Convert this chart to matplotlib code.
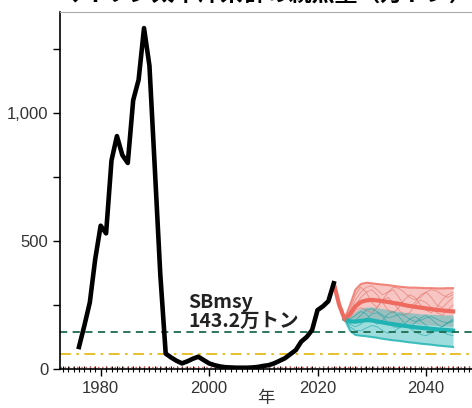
import numpy as np
import matplotlib.pyplot as plt
from matplotlib.ticker import MultipleLocator, FuncFormatter

plt.rcParams['font.family'] = ['Liberation Sans', 'Noto Sans CJK JP']

# 親魚量の推移（万トン）
anos = list(range(1976, 2024))
sb = [86, 170, 260, 430, 560, 530, 815, 910, 836, 805, 1050, 1130, 1332, 1185,
      780, 370, 60, 45, 32, 22, 30, 40, 48, 35, 22, 15, 10, 7, 6, 5, 5, 5, 6,
      8, 12, 15, 22, 32, 42, 58, 74, 107, 125, 152, 230, 245, 265, 335]

anos_puente = [2023, 2024, 2025]
sb_puente = [335, 250, 195]

# 将来予測
anos_proy = list(range(2025, 2046))
rojo_centro = [195, 215, 245, 262, 268, 270, 268, 265, 262, 258, 255, 250, 246, 243, 240, 237, 234, 231, 229, 227, 225]
rojo_sup = [195, 250, 310, 332, 337, 335, 332, 330, 328, 325, 322, 320, 318, 318, 317, 316, 316, 315, 315, 316, 316]
rojo_inf = [195, 185, 190, 195, 195, 193, 190, 188, 186, 184, 182, 180, 178, 176, 175, 173, 172, 170, 169, 168, 167]
verde_centro = [195, 186, 185, 188, 191, 190, 186, 182, 178, 175, 172, 169, 166, 163, 161, 159, 157, 155, 153, 152, 150]
verde_sup = [195, 205, 225, 238, 242, 243, 240, 236, 232, 228, 225, 222, 220, 218, 216, 215, 214, 213, 212, 211, 211]
verde_inf = [195, 150, 133, 130, 128, 125, 122, 118, 115, 112, 110, 107, 104, 102, 99, 97, 95, 92, 90, 88, 86]

tray_rojo = [
    [195, 230, 290, 320, 300, 260, 240, 270, 300, 310, 280, 250, 240, 260, 290, 300, 280, 250, 240, 260, 280],
    [195, 210, 250, 280, 300, 310, 290, 260, 230, 220, 240, 270, 290, 280, 250, 230, 220, 240, 270, 290, 300],
    [195, 200, 230, 240, 230, 220, 240, 270, 280, 260, 230, 210, 220, 250, 270, 260, 240, 220, 210, 230, 250],
    [195, 220, 270, 300, 320, 325, 310, 290, 300, 320, 315, 300, 280, 270, 280, 300, 310, 305, 290, 280, 290],
]
tray_verde = [
    [195, 195, 210, 225, 215, 190, 175, 190, 215, 225, 205, 180, 165, 180, 200, 210, 195, 175, 165, 180, 195],
    [195, 175, 165, 175, 195, 215, 220, 205, 180, 165, 160, 175, 195, 205, 190, 170, 155, 150, 165, 180, 185],
    [195, 165, 150, 150, 160, 170, 165, 150, 140, 145, 160, 170, 160, 145, 135, 130, 140, 150, 145, 135, 130],
    [195, 185, 190, 210, 230, 235, 225, 210, 200, 205, 215, 210, 195, 185, 190, 200, 205, 195, 185, 180, 190],
]

sb_msy = 143.2
sb_limit = 58
sb_ban = 7

rojo = '#ee6a5e'
verde = '#1fb3b3'

fig = plt.figure(figsize=(4.72, 4.08), dpi=100)
ax = fig.add_axes([60 / 472, 1 - 369 / 408, 1 - 60 / 472, (369 - 12) / 408])

# Bandas de predicción
ax.fill_between(anos_proy, rojo_inf, rojo_sup, color='#f3a19b', alpha=0.6, lw=0)
ax.fill_between(anos_proy, verde_inf, verde_sup, color='#3cbcbc', alpha=0.5, lw=0)
ax.plot(anos_proy, rojo_sup, color=rojo, lw=1.5, alpha=0.8)
ax.plot(anos_proy, verde_inf, color=verde, lw=1.5, alpha=0.8)
for t in tray_rojo:
    ax.plot(anos_proy, t, color='#e0685e', lw=0.6, alpha=0.6)
for t in tray_verde:
    ax.plot(anos_proy, t, color='#159f9f', lw=0.6, alpha=0.6)
ax.plot(anos_proy, rojo_centro, color=rojo, lw=3)
ax.plot(anos_proy, verde_centro, color=verde, lw=3)

# Líneas de referencia
ax.axhline(sb_msy, color='#1d6b4e', ls=(0, (4, 3)), lw=1.3)
ax.axhline(sb_limit, color='#e6bb1a', ls=(0, (6, 3, 1.5, 3)), lw=1.3)
ax.axhline(sb_ban, color='#e05050', ls=(0, (1, 2)), lw=1.0)

ax.plot(anos_puente, sb_puente, color=rojo, lw=3, solid_capstyle='round')
ax.plot(anos, sb, color='black', lw=3.3)

ax.text(1996.2, 163, 'SBmsy\n143.2万トン', fontsize=14, fontweight='bold',
        family=['Noto Sans CJK JP'], color='#222222', linespacing=1.05)

ax.set_xlim(1972.5, 2048.5)
ax.set_ylim(0, 1395)
ax.xaxis.set_major_locator(MultipleLocator(20))
ax.xaxis.set_minor_locator(MultipleLocator(1))
ax.yaxis.set_major_locator(MultipleLocator(500))
ax.yaxis.set_minor_locator(MultipleLocator(250))
ax.yaxis.set_major_formatter(FuncFormatter(lambda v, p: f'{int(v):,}'))
ax.tick_params(axis='both', which='major', direction='out', length=5, width=1,
               labelsize=12, labelcolor='#333333')
ax.tick_params(axis='x', which='minor', direction='inout', length=4, width=0.8)
ax.tick_params(axis='y', which='minor', direction='out', length=5, width=1)

ax.spines['right'].set_visible(False)
ax.spines['top'].set_color('#aaaaaa')
ax.spines['left'].set_linewidth(1.2)
ax.spines['bottom'].set_linewidth(1.2)

ax.set_xlabel('年', family=['Noto Sans CJK JP'], fontsize=12.5, labelpad=-5, color='#333333')

fig.text(0.565, 1 - 7 / 408, 'マイワシ太平洋系群の親魚量（万トン）', ha='center', va='bottom',
         fontsize=16.5, fontweight='bold', family=['Noto Sans CJK JP'])

fig.savefig('out.png', dpi=100)
